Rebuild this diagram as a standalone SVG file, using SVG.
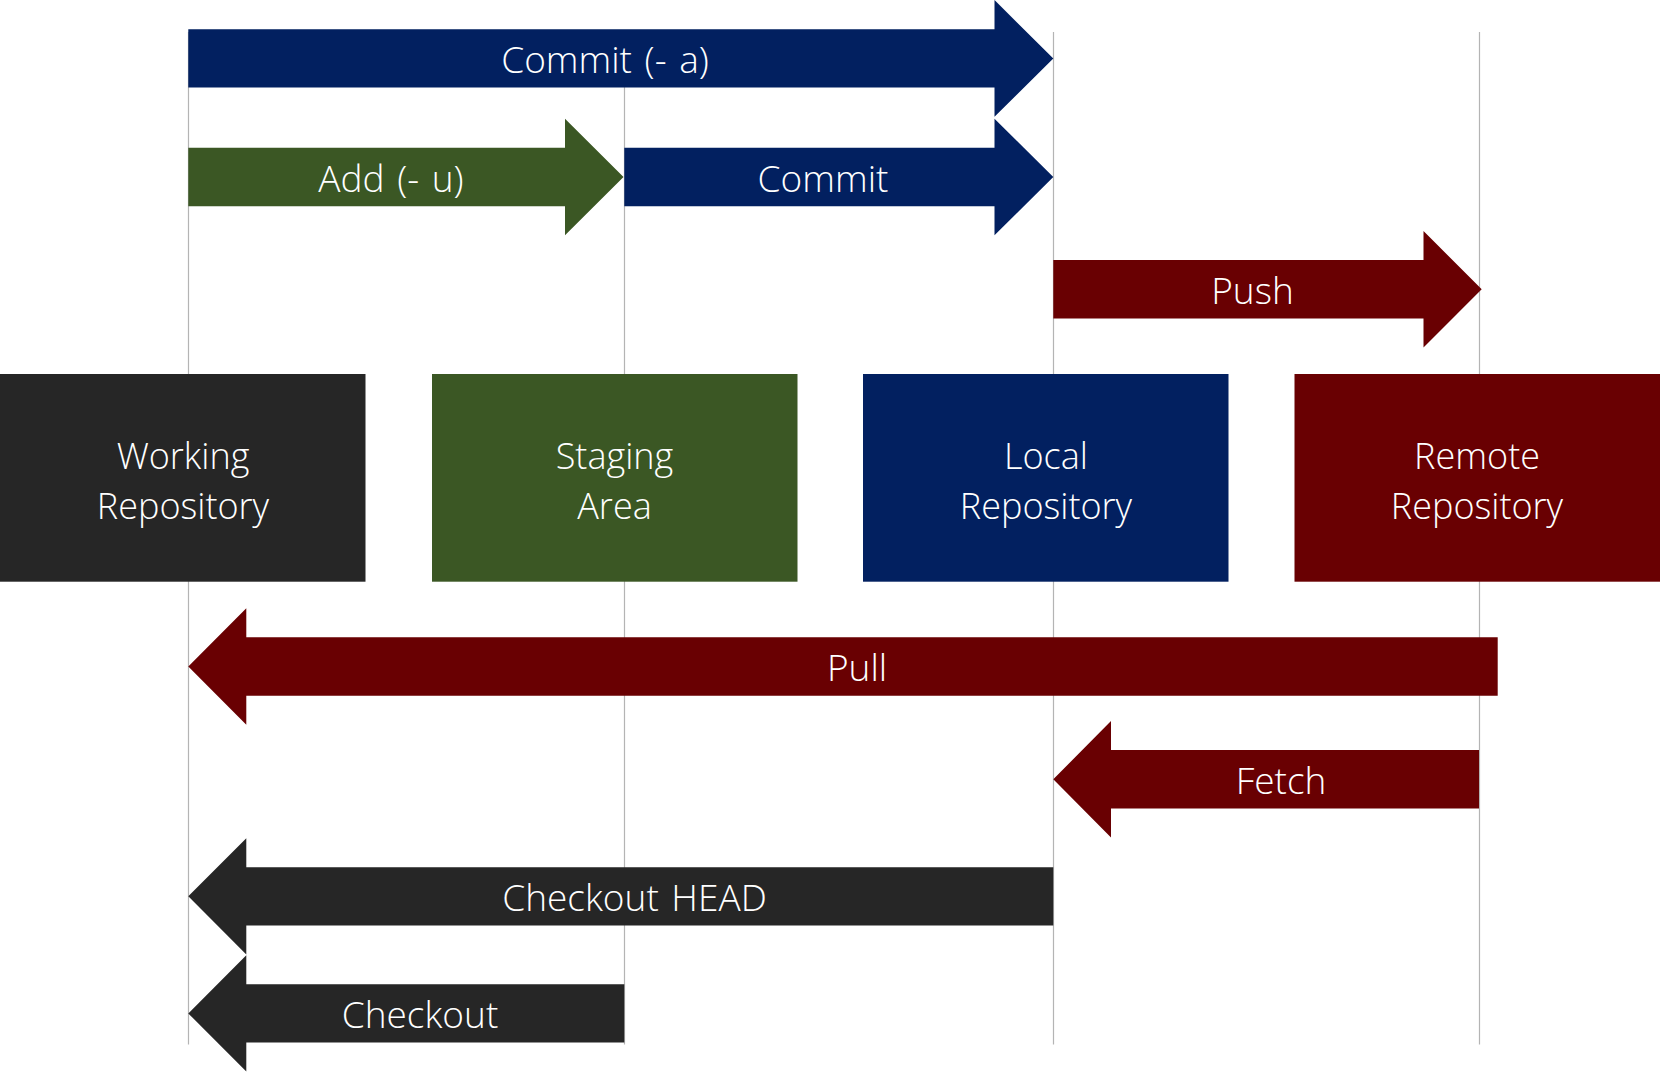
<svg xmlns="http://www.w3.org/2000/svg" width="1660" height="1072" viewBox="0 0 1660 1072">
<style>
.bg{fill:#ffffff}
.guide{stroke:#b4b4b4;stroke-width:1.2;fill:none}
.dark{fill:#262626}
.green{fill:#3b5724}
.navy{fill:#022060}
.red{fill:#690002}
.lbl{font-family:"Open Sans","Noto Sans","Liberation Sans",sans-serif;font-size:37px;font-weight:350;fill:#ffffff;text-anchor:middle;word-spacing:3px}
.box{font-size:36px}
</style>
<rect class="bg" x="0" y="0" width="1660" height="1072"/>
<g id="guides">
<line class="guide" x1="188.5" y1="32" x2="188.5" y2="1044.5"/>
<line class="guide" x1="624.5" y1="32" x2="624.5" y2="1044.5"/>
<line class="guide" x1="1053.5" y1="32" x2="1053.5" y2="1044.5"/>
<line class="guide" x1="1479.5" y1="32" x2="1479.5" y2="1044.5"/>
</g>
<g id="node-working">
<rect class="dark" x="0" y="374" width="365.5" height="207.7"/>
<text class="lbl box"><tspan x="183" y="469">Working</tspan><tspan x="183" y="518.5">Repository</tspan></text>
</g>
<g id="node-staging">
<rect class="green" x="432" y="374" width="365.5" height="207.7"/>
<text class="lbl box"><tspan x="614.5" y="469">Staging</tspan><tspan x="614.5" y="518.5">Area</tspan></text>
</g>
<g id="node-local">
<rect class="navy" x="863" y="374" width="365.5" height="207.7"/>
<text class="lbl box"><tspan x="1046" y="469">Local</tspan><tspan x="1046" y="518.5">Repository</tspan></text>
</g>
<g id="node-remote">
<rect class="red" x="1294.5" y="374" width="365.5" height="207.7"/>
<text class="lbl box"><tspan x="1477" y="469">Remote</tspan><tspan x="1477" y="518.5">Repository</tspan></text>
</g>
<g id="connectors">
<g id="commit-a">
<path class="navy" d="M188.3,29.3 H994.5 V0.1 L1053.3,58.4 L994.5,116.7 V87.5 H188.3 Z"/>
<text class="lbl" x="605" y="73.3">Commit (- a)</text>
</g>
<g id="add-u">
<path class="green" d="M188.3,147.8 H565 V118.7 L623.5,177 L565,235.3 V206.2 H188.3 Z"/>
<text class="lbl" x="391" y="191.5">Add (- u)</text>
</g>
<g id="commit">
<path class="navy" d="M624.3,147.8 H994.5 V118.7 L1053.3,177 L994.5,235.3 V206.2 H624.3 Z"/>
<text class="lbl" x="823" y="191.5">Commit</text>
</g>
<g id="push">
<path class="red" d="M1053.3,260.1 H1423.5 V231 L1481.7,289.3 L1423.5,347.6 V318.5 H1053.3 Z"/>
<text class="lbl" x="1252.5" y="304">Push</text>
</g>
<g id="pull">
<path class="red" d="M1497.7,637.3 H246.3 V608.2 L188.3,666.5 L246.3,724.8 V695.7 H1497.7 Z"/>
<text class="lbl" x="857" y="681">Pull</text>
</g>
<g id="fetch">
<path class="red" d="M1479,750.1 H1111 V721 L1053.3,779.3 L1111,837.6 V808.5 H1479 Z"/>
<text class="lbl" x="1281" y="793.5">Fetch</text>
</g>
<g id="checkout-head">
<path class="dark" d="M1053.3,867.3 H246.3 V838.2 L188.3,896.3 L246.3,954.4 V925.6 H1053.3 Z"/>
<text class="lbl" x="634.5" y="910.8">Checkout HEAD</text>
</g>
<g id="checkout">
<path class="dark" d="M624.3,984.3 H246.3 V955.2 L188.3,1013.4 L246.3,1071.6 V1042.6 H624.3 Z"/>
<text class="lbl" x="420" y="1028.3">Checkout</text>
</g>
</g>
</svg>
